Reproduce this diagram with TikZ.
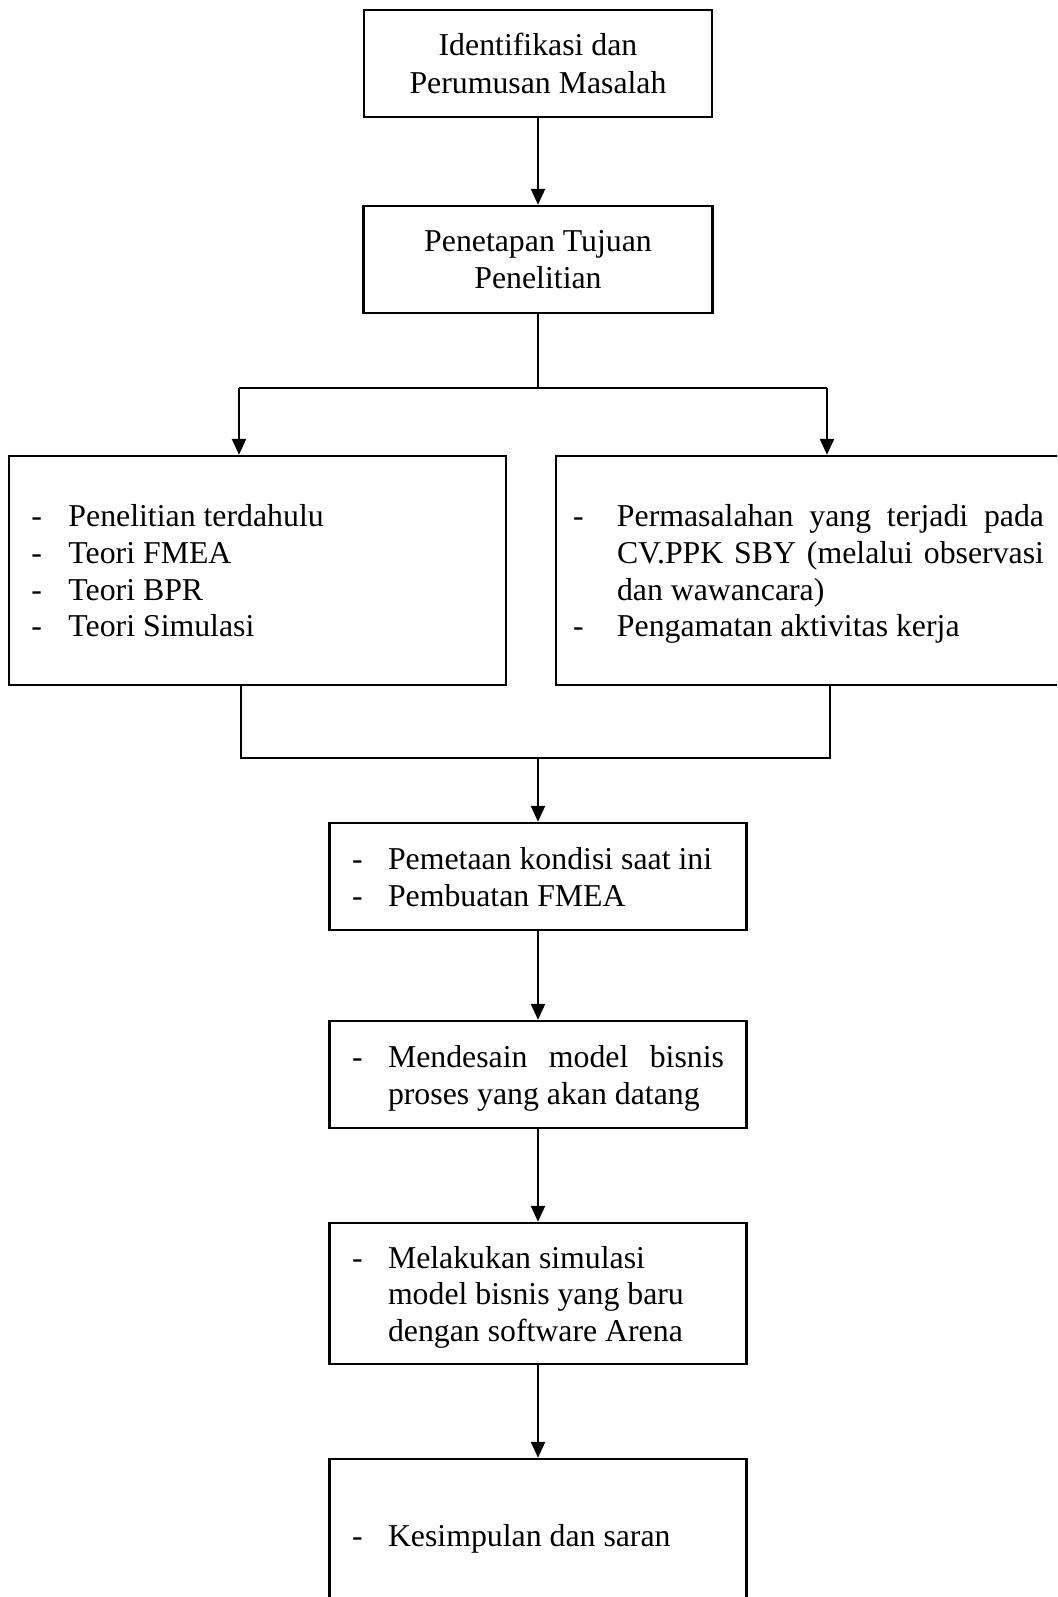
\documentclass[tikz,border=0pt]{standalone}
\usepackage{fontspec}
\setmainfont{Liberation Serif}
\usetikzlibrary{arrows.meta}

\tolerance=10000
\hyphenpenalty=10000

% a dashed list: #1 dash column, #2 full width, #3 rows "- & text \\ ..."
% (set 2pt lower than its box's centre, keeping its size)
\newcommand\dashlist[3]{%
  \raisebox{-2pt}[\height][\depth]{%
    \begin{tabular}{@{}p{#1}@{}p{\dimexpr#2-#1\relax}@{}}#3\end{tabular}}}

\begin{document}
\begin{tikzpicture}[x=0.5pt,y=-0.5pt,
  stage/.style={draw, line width=1.2pt, inner sep=0pt,
    font=\fontsize{15.9pt}{18.3pt}\selectfont},
  titled/.style={stage, align=center, font=\fontsize{15.9pt}{18.6pt}\selectfont},
  listed/.style={stage},
  flow/.style={line width=1.2pt, -{Triangle[width=7pt,length=8pt]}},
  joint/.style={line width=0.6pt}]

\useasboundingbox (0,0) rectangle (1057,1597);
\clip (0,0) rectangle (1057,1597);
\fill[white] (0,0) rectangle (1057,1597);

% boxes
\node[titled, minimum width=174pt, minimum height=53.5pt] (ident) at (538,63.5)
  {Identifikasi dan\\Perumusan Masalah};
\node[titled, minimum width=174.5pt, minimum height=53.5pt] (tujuan) at (538,259.5)
  {Penetapan Tujuan\\Penelitian};

\node[listed, minimum width=248.5pt, minimum height=114.5pt] (lit) at (257.5,570.5)
  {\dashlist{18.5pt}{226pt}{%
    - & Penelitian terdahulu\\
    - & Teori FMEA\\
    - & Teori BPR\\
    - & Teori Simulasi}};
\node[listed, minimum width=252.5pt, minimum height=114.5pt] (obs) at (808.5,570.5)
  {\dashlist{22pt}{235.5pt}{%
    - & Permasalahan yang terjadi pada\linebreak CV.PPK SBY (melalui observasi\linebreak dan wawancara)\\
    - & Pengamatan aktivitas kerja}};

\node[listed, minimum width=208.5pt, minimum height=53.5pt] (peta) at (538,876.5)
  {\dashlist{18pt}{186pt}{%
    - & Pemetaan kondisi saat ini\\
    - & Pembuatan FMEA}};
\node[listed, minimum width=208.5pt, minimum height=53.5pt] (desain) at (538,1074.5)
  {\dashlist{18pt}{186pt}{%
    - & Mendesain model bisnis\linebreak proses yang akan datang}};
\node[listed, minimum width=208.5pt, minimum height=70.5pt] (simulasi) at (538,1293.5)
  {\dashlist{18pt}{186pt}{%
    - & Melakukan simulasi\newline model bisnis yang baru\newline dengan software Arena}};
\node[listed, minimum width=208.5pt, minimum height=76pt] (simpul) at (538,1535)
  {\dashlist{18pt}{186pt}{%
    - & Kesimpulan dan saran}};

% fork into the two study branches
\coordinate (fork) at (538,388);
\coordinate (forkL) at (239,388);
\coordinate (forkR) at (827,388);
\draw[flow] (ident) -- (tujuan);
\draw[joint] (tujuan.south) -- (fork);
\draw[joint] (forkL) -- (forkR);
\draw[flow] (forkL) -- (forkL |- lit.north);
\draw[flow] (forkR) -- (forkR |- obs.north);

% branches joined again
\coordinate (joinL) at (241,758);
\coordinate (joinR) at (830,758);
\coordinate (merge) at (538,758);
\draw[joint] (joinL |- lit.south) -- (joinL) -- (joinR) -- (joinR |- obs.south);
\draw[flow] (merge) -- (peta.north);

% main sequence
\draw[flow] (peta) -- (desain);
\draw[flow] (desain) -- (simulasi);
\draw[flow] (simulasi) -- (simpul);
\end{tikzpicture}
\end{document}
